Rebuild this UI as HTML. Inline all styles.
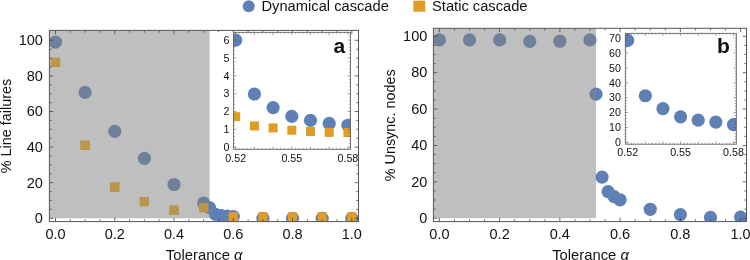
<!DOCTYPE html><html><head><meta charset="utf-8"><style>html,body{margin:0;padding:0;background:#fff;}svg{display:block;will-change:transform;}text{font-family:"Liberation Sans", sans-serif;fill:#111;}</style></head><body>
<svg width="750" height="260" viewBox="0 0 750 260">
<rect width="750" height="260" fill="#fff"/>
<clipPath id="ca"><rect x="49.4" y="30.4" width="309.1" height="191.2"/></clipPath>
<g clip-path="url(#ca)">
<circle cx="55.5" cy="42.08" r="6.6" fill="#5e81b5"/>
<circle cx="85.13" cy="92.45" r="6.6" fill="#5e81b5"/>
<circle cx="114.76" cy="131.44" r="6.6" fill="#5e81b5"/>
<circle cx="144.39" cy="158.31" r="6.6" fill="#5e81b5"/>
<circle cx="174.02" cy="184.48" r="6.6" fill="#5e81b5"/>
<circle cx="203.65" cy="202.99" r="6.6" fill="#5e81b5"/>
<circle cx="209.58" cy="207.62" r="6.6" fill="#5e81b5"/>
<circle cx="215.5" cy="214.38" r="6.6" fill="#5e81b5"/>
<circle cx="221.43" cy="215.63" r="6.6" fill="#5e81b5"/>
<circle cx="227.35" cy="216.16" r="6.6" fill="#5e81b5"/>
<circle cx="233.28" cy="216.52" r="6.6" fill="#5e81b5"/>
<circle cx="262.91" cy="218.3" r="6.6" fill="#5e81b5"/>
<circle cx="292.54" cy="218.3" r="6.6" fill="#5e81b5"/>
<circle cx="322.17" cy="218.3" r="6.6" fill="#5e81b5"/>
<circle cx="351.8" cy="218.3" r="6.6" fill="#5e81b5"/>
<rect x="50.9" y="57.77" width="9.2" height="9.2" fill="#e19c24"/>
<rect x="80.53" y="140.72" width="9.2" height="9.2" fill="#e19c24"/>
<rect x="110.16" y="182.55" width="9.2" height="9.2" fill="#e19c24"/>
<rect x="139.79" y="196.97" width="9.2" height="9.2" fill="#e19c24"/>
<rect x="169.42" y="205.51" width="9.2" height="9.2" fill="#e19c24"/>
<rect x="199.05" y="203.02" width="9.2" height="9.2" fill="#e19c24"/>
<rect x="228.68" y="212.28" width="9.2" height="9.2" fill="#e19c24"/>
<rect x="258.31" y="212.28" width="9.2" height="9.2" fill="#e19c24"/>
<rect x="287.94" y="212.28" width="9.2" height="9.2" fill="#e19c24"/>
<rect x="317.57" y="212.28" width="9.2" height="9.2" fill="#e19c24"/>
<rect x="347.2" y="212.28" width="9.2" height="9.2" fill="#e19c24"/>
<rect x="49.4" y="30.4" width="160.18" height="187.9" fill="rgba(128,128,128,0.5)"/>
<rect x="50.9" y="57.77" width="9.2" height="9.2" fill="#bb9549"/>
<rect x="80.53" y="140.72" width="9.2" height="9.2" fill="#bb9549"/>
<rect x="110.16" y="182.55" width="9.2" height="9.2" fill="#bb9549"/>
<rect x="139.79" y="196.97" width="9.2" height="9.2" fill="#bb9549"/>
<rect x="169.42" y="205.51" width="9.2" height="9.2" fill="#bb9549"/>
<rect x="199.05" y="203.02" width="9.2" height="9.2" fill="#bb9549"/>
</g>
<line x1="55.5" y1="221.6" x2="55.5" y2="217.8" stroke="#444" stroke-width="0.8"/>
<line x1="55.5" y1="30.4" x2="55.5" y2="34.2" stroke="#444" stroke-width="0.8"/>
<line x1="70.31" y1="221.6" x2="70.31" y2="219.4" stroke="#444" stroke-width="0.8"/>
<line x1="70.31" y1="30.4" x2="70.31" y2="32.6" stroke="#444" stroke-width="0.8"/>
<line x1="85.13" y1="221.6" x2="85.13" y2="219.4" stroke="#444" stroke-width="0.8"/>
<line x1="85.13" y1="30.4" x2="85.13" y2="32.6" stroke="#444" stroke-width="0.8"/>
<line x1="99.95" y1="221.6" x2="99.95" y2="219.4" stroke="#444" stroke-width="0.8"/>
<line x1="99.95" y1="30.4" x2="99.95" y2="32.6" stroke="#444" stroke-width="0.8"/>
<line x1="114.76" y1="221.6" x2="114.76" y2="217.8" stroke="#444" stroke-width="0.8"/>
<line x1="114.76" y1="30.4" x2="114.76" y2="34.2" stroke="#444" stroke-width="0.8"/>
<line x1="129.57" y1="221.6" x2="129.57" y2="219.4" stroke="#444" stroke-width="0.8"/>
<line x1="129.57" y1="30.4" x2="129.57" y2="32.6" stroke="#444" stroke-width="0.8"/>
<line x1="144.39" y1="221.6" x2="144.39" y2="219.4" stroke="#444" stroke-width="0.8"/>
<line x1="144.39" y1="30.4" x2="144.39" y2="32.6" stroke="#444" stroke-width="0.8"/>
<line x1="159.21" y1="221.6" x2="159.21" y2="219.4" stroke="#444" stroke-width="0.8"/>
<line x1="159.21" y1="30.4" x2="159.21" y2="32.6" stroke="#444" stroke-width="0.8"/>
<line x1="174.02" y1="221.6" x2="174.02" y2="217.8" stroke="#444" stroke-width="0.8"/>
<line x1="174.02" y1="30.4" x2="174.02" y2="34.2" stroke="#444" stroke-width="0.8"/>
<line x1="188.84" y1="221.6" x2="188.84" y2="219.4" stroke="#444" stroke-width="0.8"/>
<line x1="188.84" y1="30.4" x2="188.84" y2="32.6" stroke="#444" stroke-width="0.8"/>
<line x1="203.65" y1="221.6" x2="203.65" y2="219.4" stroke="#444" stroke-width="0.8"/>
<line x1="203.65" y1="30.4" x2="203.65" y2="32.6" stroke="#444" stroke-width="0.8"/>
<line x1="218.47" y1="221.6" x2="218.47" y2="219.4" stroke="#444" stroke-width="0.8"/>
<line x1="218.47" y1="30.4" x2="218.47" y2="32.6" stroke="#444" stroke-width="0.8"/>
<line x1="233.28" y1="221.6" x2="233.28" y2="217.8" stroke="#444" stroke-width="0.8"/>
<line x1="233.28" y1="30.4" x2="233.28" y2="34.2" stroke="#444" stroke-width="0.8"/>
<line x1="248.1" y1="221.6" x2="248.1" y2="219.4" stroke="#444" stroke-width="0.8"/>
<line x1="248.1" y1="30.4" x2="248.1" y2="32.6" stroke="#444" stroke-width="0.8"/>
<line x1="262.91" y1="221.6" x2="262.91" y2="219.4" stroke="#444" stroke-width="0.8"/>
<line x1="262.91" y1="30.4" x2="262.91" y2="32.6" stroke="#444" stroke-width="0.8"/>
<line x1="277.73" y1="221.6" x2="277.73" y2="219.4" stroke="#444" stroke-width="0.8"/>
<line x1="277.73" y1="30.4" x2="277.73" y2="32.6" stroke="#444" stroke-width="0.8"/>
<line x1="292.54" y1="221.6" x2="292.54" y2="217.8" stroke="#444" stroke-width="0.8"/>
<line x1="292.54" y1="30.4" x2="292.54" y2="34.2" stroke="#444" stroke-width="0.8"/>
<line x1="307.36" y1="221.6" x2="307.36" y2="219.4" stroke="#444" stroke-width="0.8"/>
<line x1="307.36" y1="30.4" x2="307.36" y2="32.6" stroke="#444" stroke-width="0.8"/>
<line x1="322.17" y1="221.6" x2="322.17" y2="219.4" stroke="#444" stroke-width="0.8"/>
<line x1="322.17" y1="30.4" x2="322.17" y2="32.6" stroke="#444" stroke-width="0.8"/>
<line x1="336.99" y1="221.6" x2="336.99" y2="219.4" stroke="#444" stroke-width="0.8"/>
<line x1="336.99" y1="30.4" x2="336.99" y2="32.6" stroke="#444" stroke-width="0.8"/>
<line x1="351.8" y1="221.6" x2="351.8" y2="217.8" stroke="#444" stroke-width="0.8"/>
<line x1="351.8" y1="30.4" x2="351.8" y2="34.2" stroke="#444" stroke-width="0.8"/>
<line x1="49.4" y1="218.3" x2="53.2" y2="218.3" stroke="#444" stroke-width="0.8"/>
<line x1="358.5" y1="218.3" x2="354.7" y2="218.3" stroke="#444" stroke-width="0.8"/>
<line x1="49.4" y1="209.4" x2="51.6" y2="209.4" stroke="#444" stroke-width="0.8"/>
<line x1="358.5" y1="209.4" x2="356.3" y2="209.4" stroke="#444" stroke-width="0.8"/>
<line x1="49.4" y1="200.5" x2="51.6" y2="200.5" stroke="#444" stroke-width="0.8"/>
<line x1="358.5" y1="200.5" x2="356.3" y2="200.5" stroke="#444" stroke-width="0.8"/>
<line x1="49.4" y1="191.6" x2="51.6" y2="191.6" stroke="#444" stroke-width="0.8"/>
<line x1="358.5" y1="191.6" x2="356.3" y2="191.6" stroke="#444" stroke-width="0.8"/>
<line x1="49.4" y1="182.7" x2="53.2" y2="182.7" stroke="#444" stroke-width="0.8"/>
<line x1="358.5" y1="182.7" x2="354.7" y2="182.7" stroke="#444" stroke-width="0.8"/>
<line x1="49.4" y1="173.8" x2="51.6" y2="173.8" stroke="#444" stroke-width="0.8"/>
<line x1="358.5" y1="173.8" x2="356.3" y2="173.8" stroke="#444" stroke-width="0.8"/>
<line x1="49.4" y1="164.9" x2="51.6" y2="164.9" stroke="#444" stroke-width="0.8"/>
<line x1="358.5" y1="164.9" x2="356.3" y2="164.9" stroke="#444" stroke-width="0.8"/>
<line x1="49.4" y1="156" x2="51.6" y2="156" stroke="#444" stroke-width="0.8"/>
<line x1="358.5" y1="156" x2="356.3" y2="156" stroke="#444" stroke-width="0.8"/>
<line x1="49.4" y1="147.1" x2="53.2" y2="147.1" stroke="#444" stroke-width="0.8"/>
<line x1="358.5" y1="147.1" x2="354.7" y2="147.1" stroke="#444" stroke-width="0.8"/>
<line x1="49.4" y1="138.2" x2="51.6" y2="138.2" stroke="#444" stroke-width="0.8"/>
<line x1="358.5" y1="138.2" x2="356.3" y2="138.2" stroke="#444" stroke-width="0.8"/>
<line x1="49.4" y1="129.3" x2="51.6" y2="129.3" stroke="#444" stroke-width="0.8"/>
<line x1="358.5" y1="129.3" x2="356.3" y2="129.3" stroke="#444" stroke-width="0.8"/>
<line x1="49.4" y1="120.4" x2="51.6" y2="120.4" stroke="#444" stroke-width="0.8"/>
<line x1="358.5" y1="120.4" x2="356.3" y2="120.4" stroke="#444" stroke-width="0.8"/>
<line x1="49.4" y1="111.5" x2="53.2" y2="111.5" stroke="#444" stroke-width="0.8"/>
<line x1="358.5" y1="111.5" x2="354.7" y2="111.5" stroke="#444" stroke-width="0.8"/>
<line x1="49.4" y1="102.6" x2="51.6" y2="102.6" stroke="#444" stroke-width="0.8"/>
<line x1="358.5" y1="102.6" x2="356.3" y2="102.6" stroke="#444" stroke-width="0.8"/>
<line x1="49.4" y1="93.7" x2="51.6" y2="93.7" stroke="#444" stroke-width="0.8"/>
<line x1="358.5" y1="93.7" x2="356.3" y2="93.7" stroke="#444" stroke-width="0.8"/>
<line x1="49.4" y1="84.8" x2="51.6" y2="84.8" stroke="#444" stroke-width="0.8"/>
<line x1="358.5" y1="84.8" x2="356.3" y2="84.8" stroke="#444" stroke-width="0.8"/>
<line x1="49.4" y1="75.9" x2="53.2" y2="75.9" stroke="#444" stroke-width="0.8"/>
<line x1="358.5" y1="75.9" x2="354.7" y2="75.9" stroke="#444" stroke-width="0.8"/>
<line x1="49.4" y1="67" x2="51.6" y2="67" stroke="#444" stroke-width="0.8"/>
<line x1="358.5" y1="67" x2="356.3" y2="67" stroke="#444" stroke-width="0.8"/>
<line x1="49.4" y1="58.1" x2="51.6" y2="58.1" stroke="#444" stroke-width="0.8"/>
<line x1="358.5" y1="58.1" x2="356.3" y2="58.1" stroke="#444" stroke-width="0.8"/>
<line x1="49.4" y1="49.2" x2="51.6" y2="49.2" stroke="#444" stroke-width="0.8"/>
<line x1="358.5" y1="49.2" x2="356.3" y2="49.2" stroke="#444" stroke-width="0.8"/>
<line x1="49.4" y1="40.3" x2="53.2" y2="40.3" stroke="#444" stroke-width="0.8"/>
<line x1="358.5" y1="40.3" x2="354.7" y2="40.3" stroke="#444" stroke-width="0.8"/>
<rect x="49.4" y="30.4" width="309.1" height="191.2" fill="none" stroke="#555" stroke-width="1"/>
<text x="55.5" y="238.7" font-size="14.5" text-anchor="middle">0.0</text>
<text x="114.76" y="238.7" font-size="14.5" text-anchor="middle">0.2</text>
<text x="174.02" y="238.7" font-size="14.5" text-anchor="middle">0.4</text>
<text x="233.28" y="238.7" font-size="14.5" text-anchor="middle">0.6</text>
<text x="292.54" y="238.7" font-size="14.5" text-anchor="middle">0.8</text>
<text x="351.8" y="238.7" font-size="14.5" text-anchor="middle">1.0</text>
<text x="42.9" y="223.1" font-size="14.5" text-anchor="end">0</text>
<text x="42.9" y="187.5" font-size="14.5" text-anchor="end">20</text>
<text x="42.9" y="151.9" font-size="14.5" text-anchor="end">40</text>
<text x="42.9" y="116.3" font-size="14.5" text-anchor="end">60</text>
<text x="42.9" y="80.7" font-size="14.5" text-anchor="end">80</text>
<text x="42.9" y="45.1" font-size="14.5" text-anchor="end">100</text>
<text x="204.2" y="259.8" font-size="14.8" text-anchor="middle">Tolerance <tspan font-style="italic">α</tspan></text>
<text transform="translate(11,126) rotate(-90)" font-size="14.4" text-anchor="middle">% Line failures</text>
<rect x="212" y="32.3" width="138.5" height="129.7" fill="#fff"/>
<clipPath id="ia"><rect x="233.6" y="32.3" width="116.9" height="117"/></clipPath>
<g clip-path="url(#ia)">
<circle cx="235.7" cy="40.1" r="6.6" fill="#5e81b5"/>
<circle cx="254.4" cy="94.01" r="6.6" fill="#5e81b5"/>
<circle cx="273.1" cy="107.57" r="6.6" fill="#5e81b5"/>
<circle cx="291.8" cy="116.32" r="6.6" fill="#5e81b5"/>
<circle cx="310.5" cy="120.42" r="6.6" fill="#5e81b5"/>
<circle cx="329.2" cy="123.46" r="6.6" fill="#5e81b5"/>
<circle cx="347.9" cy="125.24" r="6.6" fill="#5e81b5"/>
<rect x="231.2" y="112.18" width="9" height="9" fill="#e19c24"/>
<rect x="249.9" y="121.46" width="9" height="9" fill="#e19c24"/>
<rect x="268.6" y="123.42" width="9" height="9" fill="#e19c24"/>
<rect x="287.3" y="125.74" width="9" height="9" fill="#e19c24"/>
<rect x="306" y="126.99" width="9" height="9" fill="#e19c24"/>
<rect x="324.7" y="127.88" width="9" height="9" fill="#e19c24"/>
<rect x="343.4" y="128.06" width="9" height="9" fill="#e19c24"/>
</g>
<line x1="235.7" y1="149.3" x2="235.7" y2="146.7" stroke="#555" stroke-width="0.6"/>
<line x1="235.7" y1="32.3" x2="235.7" y2="34.9" stroke="#555" stroke-width="0.6"/>
<line x1="239.44" y1="149.3" x2="239.44" y2="148" stroke="#555" stroke-width="0.6"/>
<line x1="239.44" y1="32.3" x2="239.44" y2="33.6" stroke="#555" stroke-width="0.6"/>
<line x1="243.18" y1="149.3" x2="243.18" y2="148" stroke="#555" stroke-width="0.6"/>
<line x1="243.18" y1="32.3" x2="243.18" y2="33.6" stroke="#555" stroke-width="0.6"/>
<line x1="246.92" y1="149.3" x2="246.92" y2="148" stroke="#555" stroke-width="0.6"/>
<line x1="246.92" y1="32.3" x2="246.92" y2="33.6" stroke="#555" stroke-width="0.6"/>
<line x1="250.66" y1="149.3" x2="250.66" y2="148" stroke="#555" stroke-width="0.6"/>
<line x1="250.66" y1="32.3" x2="250.66" y2="33.6" stroke="#555" stroke-width="0.6"/>
<line x1="254.4" y1="149.3" x2="254.4" y2="146.7" stroke="#555" stroke-width="0.6"/>
<line x1="254.4" y1="32.3" x2="254.4" y2="34.9" stroke="#555" stroke-width="0.6"/>
<line x1="258.14" y1="149.3" x2="258.14" y2="148" stroke="#555" stroke-width="0.6"/>
<line x1="258.14" y1="32.3" x2="258.14" y2="33.6" stroke="#555" stroke-width="0.6"/>
<line x1="261.88" y1="149.3" x2="261.88" y2="148" stroke="#555" stroke-width="0.6"/>
<line x1="261.88" y1="32.3" x2="261.88" y2="33.6" stroke="#555" stroke-width="0.6"/>
<line x1="265.62" y1="149.3" x2="265.62" y2="148" stroke="#555" stroke-width="0.6"/>
<line x1="265.62" y1="32.3" x2="265.62" y2="33.6" stroke="#555" stroke-width="0.6"/>
<line x1="269.36" y1="149.3" x2="269.36" y2="148" stroke="#555" stroke-width="0.6"/>
<line x1="269.36" y1="32.3" x2="269.36" y2="33.6" stroke="#555" stroke-width="0.6"/>
<line x1="273.1" y1="149.3" x2="273.1" y2="146.7" stroke="#555" stroke-width="0.6"/>
<line x1="273.1" y1="32.3" x2="273.1" y2="34.9" stroke="#555" stroke-width="0.6"/>
<line x1="276.84" y1="149.3" x2="276.84" y2="148" stroke="#555" stroke-width="0.6"/>
<line x1="276.84" y1="32.3" x2="276.84" y2="33.6" stroke="#555" stroke-width="0.6"/>
<line x1="280.58" y1="149.3" x2="280.58" y2="148" stroke="#555" stroke-width="0.6"/>
<line x1="280.58" y1="32.3" x2="280.58" y2="33.6" stroke="#555" stroke-width="0.6"/>
<line x1="284.32" y1="149.3" x2="284.32" y2="148" stroke="#555" stroke-width="0.6"/>
<line x1="284.32" y1="32.3" x2="284.32" y2="33.6" stroke="#555" stroke-width="0.6"/>
<line x1="288.06" y1="149.3" x2="288.06" y2="148" stroke="#555" stroke-width="0.6"/>
<line x1="288.06" y1="32.3" x2="288.06" y2="33.6" stroke="#555" stroke-width="0.6"/>
<line x1="291.8" y1="149.3" x2="291.8" y2="146.7" stroke="#555" stroke-width="0.6"/>
<line x1="291.8" y1="32.3" x2="291.8" y2="34.9" stroke="#555" stroke-width="0.6"/>
<line x1="295.54" y1="149.3" x2="295.54" y2="148" stroke="#555" stroke-width="0.6"/>
<line x1="295.54" y1="32.3" x2="295.54" y2="33.6" stroke="#555" stroke-width="0.6"/>
<line x1="299.28" y1="149.3" x2="299.28" y2="148" stroke="#555" stroke-width="0.6"/>
<line x1="299.28" y1="32.3" x2="299.28" y2="33.6" stroke="#555" stroke-width="0.6"/>
<line x1="303.02" y1="149.3" x2="303.02" y2="148" stroke="#555" stroke-width="0.6"/>
<line x1="303.02" y1="32.3" x2="303.02" y2="33.6" stroke="#555" stroke-width="0.6"/>
<line x1="306.76" y1="149.3" x2="306.76" y2="148" stroke="#555" stroke-width="0.6"/>
<line x1="306.76" y1="32.3" x2="306.76" y2="33.6" stroke="#555" stroke-width="0.6"/>
<line x1="310.5" y1="149.3" x2="310.5" y2="146.7" stroke="#555" stroke-width="0.6"/>
<line x1="310.5" y1="32.3" x2="310.5" y2="34.9" stroke="#555" stroke-width="0.6"/>
<line x1="314.24" y1="149.3" x2="314.24" y2="148" stroke="#555" stroke-width="0.6"/>
<line x1="314.24" y1="32.3" x2="314.24" y2="33.6" stroke="#555" stroke-width="0.6"/>
<line x1="317.98" y1="149.3" x2="317.98" y2="148" stroke="#555" stroke-width="0.6"/>
<line x1="317.98" y1="32.3" x2="317.98" y2="33.6" stroke="#555" stroke-width="0.6"/>
<line x1="321.72" y1="149.3" x2="321.72" y2="148" stroke="#555" stroke-width="0.6"/>
<line x1="321.72" y1="32.3" x2="321.72" y2="33.6" stroke="#555" stroke-width="0.6"/>
<line x1="325.46" y1="149.3" x2="325.46" y2="148" stroke="#555" stroke-width="0.6"/>
<line x1="325.46" y1="32.3" x2="325.46" y2="33.6" stroke="#555" stroke-width="0.6"/>
<line x1="329.2" y1="149.3" x2="329.2" y2="146.7" stroke="#555" stroke-width="0.6"/>
<line x1="329.2" y1="32.3" x2="329.2" y2="34.9" stroke="#555" stroke-width="0.6"/>
<line x1="332.94" y1="149.3" x2="332.94" y2="148" stroke="#555" stroke-width="0.6"/>
<line x1="332.94" y1="32.3" x2="332.94" y2="33.6" stroke="#555" stroke-width="0.6"/>
<line x1="336.68" y1="149.3" x2="336.68" y2="148" stroke="#555" stroke-width="0.6"/>
<line x1="336.68" y1="32.3" x2="336.68" y2="33.6" stroke="#555" stroke-width="0.6"/>
<line x1="340.42" y1="149.3" x2="340.42" y2="148" stroke="#555" stroke-width="0.6"/>
<line x1="340.42" y1="32.3" x2="340.42" y2="33.6" stroke="#555" stroke-width="0.6"/>
<line x1="344.16" y1="149.3" x2="344.16" y2="148" stroke="#555" stroke-width="0.6"/>
<line x1="344.16" y1="32.3" x2="344.16" y2="33.6" stroke="#555" stroke-width="0.6"/>
<line x1="347.9" y1="149.3" x2="347.9" y2="146.7" stroke="#555" stroke-width="0.6"/>
<line x1="347.9" y1="32.3" x2="347.9" y2="34.9" stroke="#555" stroke-width="0.6"/>
<line x1="233.6" y1="147.2" x2="236.2" y2="147.2" stroke="#555" stroke-width="0.6"/>
<line x1="350.5" y1="147.2" x2="347.9" y2="147.2" stroke="#555" stroke-width="0.6"/>
<line x1="233.6" y1="143.63" x2="234.9" y2="143.63" stroke="#555" stroke-width="0.6"/>
<line x1="350.5" y1="143.63" x2="349.2" y2="143.63" stroke="#555" stroke-width="0.6"/>
<line x1="233.6" y1="140.06" x2="234.9" y2="140.06" stroke="#555" stroke-width="0.6"/>
<line x1="350.5" y1="140.06" x2="349.2" y2="140.06" stroke="#555" stroke-width="0.6"/>
<line x1="233.6" y1="136.49" x2="234.9" y2="136.49" stroke="#555" stroke-width="0.6"/>
<line x1="350.5" y1="136.49" x2="349.2" y2="136.49" stroke="#555" stroke-width="0.6"/>
<line x1="233.6" y1="132.92" x2="234.9" y2="132.92" stroke="#555" stroke-width="0.6"/>
<line x1="350.5" y1="132.92" x2="349.2" y2="132.92" stroke="#555" stroke-width="0.6"/>
<line x1="233.6" y1="129.35" x2="236.2" y2="129.35" stroke="#555" stroke-width="0.6"/>
<line x1="350.5" y1="129.35" x2="347.9" y2="129.35" stroke="#555" stroke-width="0.6"/>
<line x1="233.6" y1="125.78" x2="234.9" y2="125.78" stroke="#555" stroke-width="0.6"/>
<line x1="350.5" y1="125.78" x2="349.2" y2="125.78" stroke="#555" stroke-width="0.6"/>
<line x1="233.6" y1="122.21" x2="234.9" y2="122.21" stroke="#555" stroke-width="0.6"/>
<line x1="350.5" y1="122.21" x2="349.2" y2="122.21" stroke="#555" stroke-width="0.6"/>
<line x1="233.6" y1="118.64" x2="234.9" y2="118.64" stroke="#555" stroke-width="0.6"/>
<line x1="350.5" y1="118.64" x2="349.2" y2="118.64" stroke="#555" stroke-width="0.6"/>
<line x1="233.6" y1="115.07" x2="234.9" y2="115.07" stroke="#555" stroke-width="0.6"/>
<line x1="350.5" y1="115.07" x2="349.2" y2="115.07" stroke="#555" stroke-width="0.6"/>
<line x1="233.6" y1="111.5" x2="236.2" y2="111.5" stroke="#555" stroke-width="0.6"/>
<line x1="350.5" y1="111.5" x2="347.9" y2="111.5" stroke="#555" stroke-width="0.6"/>
<line x1="233.6" y1="107.93" x2="234.9" y2="107.93" stroke="#555" stroke-width="0.6"/>
<line x1="350.5" y1="107.93" x2="349.2" y2="107.93" stroke="#555" stroke-width="0.6"/>
<line x1="233.6" y1="104.36" x2="234.9" y2="104.36" stroke="#555" stroke-width="0.6"/>
<line x1="350.5" y1="104.36" x2="349.2" y2="104.36" stroke="#555" stroke-width="0.6"/>
<line x1="233.6" y1="100.79" x2="234.9" y2="100.79" stroke="#555" stroke-width="0.6"/>
<line x1="350.5" y1="100.79" x2="349.2" y2="100.79" stroke="#555" stroke-width="0.6"/>
<line x1="233.6" y1="97.22" x2="234.9" y2="97.22" stroke="#555" stroke-width="0.6"/>
<line x1="350.5" y1="97.22" x2="349.2" y2="97.22" stroke="#555" stroke-width="0.6"/>
<line x1="233.6" y1="93.65" x2="236.2" y2="93.65" stroke="#555" stroke-width="0.6"/>
<line x1="350.5" y1="93.65" x2="347.9" y2="93.65" stroke="#555" stroke-width="0.6"/>
<line x1="233.6" y1="90.08" x2="234.9" y2="90.08" stroke="#555" stroke-width="0.6"/>
<line x1="350.5" y1="90.08" x2="349.2" y2="90.08" stroke="#555" stroke-width="0.6"/>
<line x1="233.6" y1="86.51" x2="234.9" y2="86.51" stroke="#555" stroke-width="0.6"/>
<line x1="350.5" y1="86.51" x2="349.2" y2="86.51" stroke="#555" stroke-width="0.6"/>
<line x1="233.6" y1="82.94" x2="234.9" y2="82.94" stroke="#555" stroke-width="0.6"/>
<line x1="350.5" y1="82.94" x2="349.2" y2="82.94" stroke="#555" stroke-width="0.6"/>
<line x1="233.6" y1="79.37" x2="234.9" y2="79.37" stroke="#555" stroke-width="0.6"/>
<line x1="350.5" y1="79.37" x2="349.2" y2="79.37" stroke="#555" stroke-width="0.6"/>
<line x1="233.6" y1="75.8" x2="236.2" y2="75.8" stroke="#555" stroke-width="0.6"/>
<line x1="350.5" y1="75.8" x2="347.9" y2="75.8" stroke="#555" stroke-width="0.6"/>
<line x1="233.6" y1="72.23" x2="234.9" y2="72.23" stroke="#555" stroke-width="0.6"/>
<line x1="350.5" y1="72.23" x2="349.2" y2="72.23" stroke="#555" stroke-width="0.6"/>
<line x1="233.6" y1="68.66" x2="234.9" y2="68.66" stroke="#555" stroke-width="0.6"/>
<line x1="350.5" y1="68.66" x2="349.2" y2="68.66" stroke="#555" stroke-width="0.6"/>
<line x1="233.6" y1="65.09" x2="234.9" y2="65.09" stroke="#555" stroke-width="0.6"/>
<line x1="350.5" y1="65.09" x2="349.2" y2="65.09" stroke="#555" stroke-width="0.6"/>
<line x1="233.6" y1="61.52" x2="234.9" y2="61.52" stroke="#555" stroke-width="0.6"/>
<line x1="350.5" y1="61.52" x2="349.2" y2="61.52" stroke="#555" stroke-width="0.6"/>
<line x1="233.6" y1="57.95" x2="236.2" y2="57.95" stroke="#555" stroke-width="0.6"/>
<line x1="350.5" y1="57.95" x2="347.9" y2="57.95" stroke="#555" stroke-width="0.6"/>
<line x1="233.6" y1="54.38" x2="234.9" y2="54.38" stroke="#555" stroke-width="0.6"/>
<line x1="350.5" y1="54.38" x2="349.2" y2="54.38" stroke="#555" stroke-width="0.6"/>
<line x1="233.6" y1="50.81" x2="234.9" y2="50.81" stroke="#555" stroke-width="0.6"/>
<line x1="350.5" y1="50.81" x2="349.2" y2="50.81" stroke="#555" stroke-width="0.6"/>
<line x1="233.6" y1="47.24" x2="234.9" y2="47.24" stroke="#555" stroke-width="0.6"/>
<line x1="350.5" y1="47.24" x2="349.2" y2="47.24" stroke="#555" stroke-width="0.6"/>
<line x1="233.6" y1="43.67" x2="234.9" y2="43.67" stroke="#555" stroke-width="0.6"/>
<line x1="350.5" y1="43.67" x2="349.2" y2="43.67" stroke="#555" stroke-width="0.6"/>
<line x1="233.6" y1="40.1" x2="236.2" y2="40.1" stroke="#555" stroke-width="0.6"/>
<line x1="350.5" y1="40.1" x2="347.9" y2="40.1" stroke="#555" stroke-width="0.6"/>
<line x1="233.6" y1="36.53" x2="234.9" y2="36.53" stroke="#555" stroke-width="0.6"/>
<line x1="350.5" y1="36.53" x2="349.2" y2="36.53" stroke="#555" stroke-width="0.6"/>
<line x1="233.6" y1="32.96" x2="234.9" y2="32.96" stroke="#555" stroke-width="0.6"/>
<line x1="350.5" y1="32.96" x2="349.2" y2="32.96" stroke="#555" stroke-width="0.6"/>
<rect x="233.6" y="32.3" width="116.9" height="117" fill="none" stroke="#555" stroke-width="0.8"/>
<text x="235.7" y="161.6" font-size="10.7" text-anchor="middle">0.52</text>
<text x="291.8" y="161.6" font-size="10.7" text-anchor="middle">0.55</text>
<text x="347.9" y="161.6" font-size="10.7" text-anchor="middle">0.58</text>
<text x="229.5" y="150.9" font-size="10.7" text-anchor="end">0</text>
<text x="229.5" y="133.05" font-size="10.7" text-anchor="end">1</text>
<text x="229.5" y="115.2" font-size="10.7" text-anchor="end">2</text>
<text x="229.5" y="97.35" font-size="10.7" text-anchor="end">3</text>
<text x="229.5" y="79.5" font-size="10.7" text-anchor="end">4</text>
<text x="229.5" y="61.65" font-size="10.7" text-anchor="end">5</text>
<text x="229.5" y="43.8" font-size="10.7" text-anchor="end">6</text>
<text x="333.5" y="53.3" font-size="21" font-weight="bold">a</text>
<clipPath id="cb"><rect x="433.4" y="28.3" width="313.1" height="193.3"/></clipPath>
<g clip-path="url(#cb)">
<circle cx="439.4" cy="39.94" r="6.6" fill="#5e81b5"/>
<circle cx="469.52" cy="39.94" r="6.6" fill="#5e81b5"/>
<circle cx="499.64" cy="39.94" r="6.6" fill="#5e81b5"/>
<circle cx="529.76" cy="41.39" r="6.6" fill="#5e81b5"/>
<circle cx="559.88" cy="41.21" r="6.6" fill="#5e81b5"/>
<circle cx="590" cy="39.94" r="6.6" fill="#5e81b5"/>
<circle cx="596.02" cy="94.14" r="6.6" fill="#5e81b5"/>
<circle cx="602.05" cy="177.09" r="6.6" fill="#5e81b5"/>
<circle cx="608.07" cy="191.64" r="6.6" fill="#5e81b5"/>
<circle cx="614.1" cy="196.55" r="6.6" fill="#5e81b5"/>
<circle cx="620.12" cy="199.83" r="6.6" fill="#5e81b5"/>
<circle cx="650.24" cy="209.29" r="6.6" fill="#5e81b5"/>
<circle cx="680.36" cy="214.56" r="6.6" fill="#5e81b5"/>
<circle cx="710.48" cy="217.47" r="6.6" fill="#5e81b5"/>
<circle cx="740.6" cy="217.11" r="6.6" fill="#5e81b5"/>
<rect x="433.4" y="28.3" width="162.62" height="189.9" fill="rgba(128,128,128,0.5)"/>
</g>
<line x1="439.4" y1="221.6" x2="439.4" y2="217.8" stroke="#444" stroke-width="0.8"/>
<line x1="439.4" y1="28.3" x2="439.4" y2="32.1" stroke="#444" stroke-width="0.8"/>
<line x1="454.46" y1="221.6" x2="454.46" y2="219.4" stroke="#444" stroke-width="0.8"/>
<line x1="454.46" y1="28.3" x2="454.46" y2="30.5" stroke="#444" stroke-width="0.8"/>
<line x1="469.52" y1="221.6" x2="469.52" y2="219.4" stroke="#444" stroke-width="0.8"/>
<line x1="469.52" y1="28.3" x2="469.52" y2="30.5" stroke="#444" stroke-width="0.8"/>
<line x1="484.58" y1="221.6" x2="484.58" y2="219.4" stroke="#444" stroke-width="0.8"/>
<line x1="484.58" y1="28.3" x2="484.58" y2="30.5" stroke="#444" stroke-width="0.8"/>
<line x1="499.64" y1="221.6" x2="499.64" y2="217.8" stroke="#444" stroke-width="0.8"/>
<line x1="499.64" y1="28.3" x2="499.64" y2="32.1" stroke="#444" stroke-width="0.8"/>
<line x1="514.7" y1="221.6" x2="514.7" y2="219.4" stroke="#444" stroke-width="0.8"/>
<line x1="514.7" y1="28.3" x2="514.7" y2="30.5" stroke="#444" stroke-width="0.8"/>
<line x1="529.76" y1="221.6" x2="529.76" y2="219.4" stroke="#444" stroke-width="0.8"/>
<line x1="529.76" y1="28.3" x2="529.76" y2="30.5" stroke="#444" stroke-width="0.8"/>
<line x1="544.82" y1="221.6" x2="544.82" y2="219.4" stroke="#444" stroke-width="0.8"/>
<line x1="544.82" y1="28.3" x2="544.82" y2="30.5" stroke="#444" stroke-width="0.8"/>
<line x1="559.88" y1="221.6" x2="559.88" y2="217.8" stroke="#444" stroke-width="0.8"/>
<line x1="559.88" y1="28.3" x2="559.88" y2="32.1" stroke="#444" stroke-width="0.8"/>
<line x1="574.94" y1="221.6" x2="574.94" y2="219.4" stroke="#444" stroke-width="0.8"/>
<line x1="574.94" y1="28.3" x2="574.94" y2="30.5" stroke="#444" stroke-width="0.8"/>
<line x1="590" y1="221.6" x2="590" y2="219.4" stroke="#444" stroke-width="0.8"/>
<line x1="590" y1="28.3" x2="590" y2="30.5" stroke="#444" stroke-width="0.8"/>
<line x1="605.06" y1="221.6" x2="605.06" y2="219.4" stroke="#444" stroke-width="0.8"/>
<line x1="605.06" y1="28.3" x2="605.06" y2="30.5" stroke="#444" stroke-width="0.8"/>
<line x1="620.12" y1="221.6" x2="620.12" y2="217.8" stroke="#444" stroke-width="0.8"/>
<line x1="620.12" y1="28.3" x2="620.12" y2="32.1" stroke="#444" stroke-width="0.8"/>
<line x1="635.18" y1="221.6" x2="635.18" y2="219.4" stroke="#444" stroke-width="0.8"/>
<line x1="635.18" y1="28.3" x2="635.18" y2="30.5" stroke="#444" stroke-width="0.8"/>
<line x1="650.24" y1="221.6" x2="650.24" y2="219.4" stroke="#444" stroke-width="0.8"/>
<line x1="650.24" y1="28.3" x2="650.24" y2="30.5" stroke="#444" stroke-width="0.8"/>
<line x1="665.3" y1="221.6" x2="665.3" y2="219.4" stroke="#444" stroke-width="0.8"/>
<line x1="665.3" y1="28.3" x2="665.3" y2="30.5" stroke="#444" stroke-width="0.8"/>
<line x1="680.36" y1="221.6" x2="680.36" y2="217.8" stroke="#444" stroke-width="0.8"/>
<line x1="680.36" y1="28.3" x2="680.36" y2="32.1" stroke="#444" stroke-width="0.8"/>
<line x1="695.42" y1="221.6" x2="695.42" y2="219.4" stroke="#444" stroke-width="0.8"/>
<line x1="695.42" y1="28.3" x2="695.42" y2="30.5" stroke="#444" stroke-width="0.8"/>
<line x1="710.48" y1="221.6" x2="710.48" y2="219.4" stroke="#444" stroke-width="0.8"/>
<line x1="710.48" y1="28.3" x2="710.48" y2="30.5" stroke="#444" stroke-width="0.8"/>
<line x1="725.54" y1="221.6" x2="725.54" y2="219.4" stroke="#444" stroke-width="0.8"/>
<line x1="725.54" y1="28.3" x2="725.54" y2="30.5" stroke="#444" stroke-width="0.8"/>
<line x1="740.6" y1="221.6" x2="740.6" y2="217.8" stroke="#444" stroke-width="0.8"/>
<line x1="740.6" y1="28.3" x2="740.6" y2="32.1" stroke="#444" stroke-width="0.8"/>
<line x1="433.4" y1="218.2" x2="437.2" y2="218.2" stroke="#444" stroke-width="0.8"/>
<line x1="746.5" y1="218.2" x2="742.7" y2="218.2" stroke="#444" stroke-width="0.8"/>
<line x1="433.4" y1="209.1" x2="435.6" y2="209.1" stroke="#444" stroke-width="0.8"/>
<line x1="746.5" y1="209.1" x2="744.3" y2="209.1" stroke="#444" stroke-width="0.8"/>
<line x1="433.4" y1="200.01" x2="435.6" y2="200.01" stroke="#444" stroke-width="0.8"/>
<line x1="746.5" y1="200.01" x2="744.3" y2="200.01" stroke="#444" stroke-width="0.8"/>
<line x1="433.4" y1="190.91" x2="435.6" y2="190.91" stroke="#444" stroke-width="0.8"/>
<line x1="746.5" y1="190.91" x2="744.3" y2="190.91" stroke="#444" stroke-width="0.8"/>
<line x1="433.4" y1="181.82" x2="437.2" y2="181.82" stroke="#444" stroke-width="0.8"/>
<line x1="746.5" y1="181.82" x2="742.7" y2="181.82" stroke="#444" stroke-width="0.8"/>
<line x1="433.4" y1="172.72" x2="435.6" y2="172.72" stroke="#444" stroke-width="0.8"/>
<line x1="746.5" y1="172.72" x2="744.3" y2="172.72" stroke="#444" stroke-width="0.8"/>
<line x1="433.4" y1="163.63" x2="435.6" y2="163.63" stroke="#444" stroke-width="0.8"/>
<line x1="746.5" y1="163.63" x2="744.3" y2="163.63" stroke="#444" stroke-width="0.8"/>
<line x1="433.4" y1="154.53" x2="435.6" y2="154.53" stroke="#444" stroke-width="0.8"/>
<line x1="746.5" y1="154.53" x2="744.3" y2="154.53" stroke="#444" stroke-width="0.8"/>
<line x1="433.4" y1="145.44" x2="437.2" y2="145.44" stroke="#444" stroke-width="0.8"/>
<line x1="746.5" y1="145.44" x2="742.7" y2="145.44" stroke="#444" stroke-width="0.8"/>
<line x1="433.4" y1="136.34" x2="435.6" y2="136.34" stroke="#444" stroke-width="0.8"/>
<line x1="746.5" y1="136.34" x2="744.3" y2="136.34" stroke="#444" stroke-width="0.8"/>
<line x1="433.4" y1="127.25" x2="435.6" y2="127.25" stroke="#444" stroke-width="0.8"/>
<line x1="746.5" y1="127.25" x2="744.3" y2="127.25" stroke="#444" stroke-width="0.8"/>
<line x1="433.4" y1="118.15" x2="435.6" y2="118.15" stroke="#444" stroke-width="0.8"/>
<line x1="746.5" y1="118.15" x2="744.3" y2="118.15" stroke="#444" stroke-width="0.8"/>
<line x1="433.4" y1="109.06" x2="437.2" y2="109.06" stroke="#444" stroke-width="0.8"/>
<line x1="746.5" y1="109.06" x2="742.7" y2="109.06" stroke="#444" stroke-width="0.8"/>
<line x1="433.4" y1="99.96" x2="435.6" y2="99.96" stroke="#444" stroke-width="0.8"/>
<line x1="746.5" y1="99.96" x2="744.3" y2="99.96" stroke="#444" stroke-width="0.8"/>
<line x1="433.4" y1="90.87" x2="435.6" y2="90.87" stroke="#444" stroke-width="0.8"/>
<line x1="746.5" y1="90.87" x2="744.3" y2="90.87" stroke="#444" stroke-width="0.8"/>
<line x1="433.4" y1="81.78" x2="435.6" y2="81.78" stroke="#444" stroke-width="0.8"/>
<line x1="746.5" y1="81.78" x2="744.3" y2="81.78" stroke="#444" stroke-width="0.8"/>
<line x1="433.4" y1="72.68" x2="437.2" y2="72.68" stroke="#444" stroke-width="0.8"/>
<line x1="746.5" y1="72.68" x2="742.7" y2="72.68" stroke="#444" stroke-width="0.8"/>
<line x1="433.4" y1="63.58" x2="435.6" y2="63.58" stroke="#444" stroke-width="0.8"/>
<line x1="746.5" y1="63.58" x2="744.3" y2="63.58" stroke="#444" stroke-width="0.8"/>
<line x1="433.4" y1="54.49" x2="435.6" y2="54.49" stroke="#444" stroke-width="0.8"/>
<line x1="746.5" y1="54.49" x2="744.3" y2="54.49" stroke="#444" stroke-width="0.8"/>
<line x1="433.4" y1="45.39" x2="435.6" y2="45.39" stroke="#444" stroke-width="0.8"/>
<line x1="746.5" y1="45.39" x2="744.3" y2="45.39" stroke="#444" stroke-width="0.8"/>
<line x1="433.4" y1="36.3" x2="437.2" y2="36.3" stroke="#444" stroke-width="0.8"/>
<line x1="746.5" y1="36.3" x2="742.7" y2="36.3" stroke="#444" stroke-width="0.8"/>
<rect x="433.4" y="28.3" width="313.1" height="193.3" fill="none" stroke="#555" stroke-width="1"/>
<text x="439.4" y="238.7" font-size="14.5" text-anchor="middle">0.0</text>
<text x="499.64" y="238.7" font-size="14.5" text-anchor="middle">0.2</text>
<text x="559.88" y="238.7" font-size="14.5" text-anchor="middle">0.4</text>
<text x="620.12" y="238.7" font-size="14.5" text-anchor="middle">0.6</text>
<text x="680.36" y="238.7" font-size="14.5" text-anchor="middle">0.8</text>
<text x="740.6" y="238.7" font-size="14.5" text-anchor="middle">1.0</text>
<text x="427.3" y="223" font-size="14.5" text-anchor="end">0</text>
<text x="427.3" y="186.62" font-size="14.5" text-anchor="end">20</text>
<text x="427.3" y="150.24" font-size="14.5" text-anchor="end">40</text>
<text x="427.3" y="113.86" font-size="14.5" text-anchor="end">60</text>
<text x="427.3" y="77.48" font-size="14.5" text-anchor="end">80</text>
<text x="427.3" y="41.1" font-size="14.5" text-anchor="end">100</text>
<text x="590.5" y="259.8" font-size="14.8" text-anchor="middle">Tolerance <tspan font-style="italic">α</tspan></text>
<text transform="translate(395.4,125.3) rotate(-90)" font-size="14.4" text-anchor="middle">% Unsync. nodes</text>
<rect x="603" y="33.3" width="133.3" height="123.7" fill="#fff"/>
<clipPath id="ib"><rect x="625.3" y="33.3" width="111" height="110.9"/></clipPath>
<g clip-path="url(#ib)">
<circle cx="627.7" cy="40.44" r="6.6" fill="#5e81b5"/>
<circle cx="645.33" cy="95.76" r="6.6" fill="#5e81b5"/>
<circle cx="662.96" cy="108.69" r="6.6" fill="#5e81b5"/>
<circle cx="680.59" cy="116.87" r="6.6" fill="#5e81b5"/>
<circle cx="698.22" cy="120.14" r="6.6" fill="#5e81b5"/>
<circle cx="715.85" cy="122.08" r="6.6" fill="#5e81b5"/>
<circle cx="733.48" cy="124.6" r="6.6" fill="#5e81b5"/>
</g>
<line x1="627.7" y1="144.2" x2="627.7" y2="141.6" stroke="#555" stroke-width="0.6"/>
<line x1="627.7" y1="33.3" x2="627.7" y2="35.9" stroke="#555" stroke-width="0.6"/>
<line x1="631.23" y1="144.2" x2="631.23" y2="142.9" stroke="#555" stroke-width="0.6"/>
<line x1="631.23" y1="33.3" x2="631.23" y2="34.6" stroke="#555" stroke-width="0.6"/>
<line x1="634.75" y1="144.2" x2="634.75" y2="142.9" stroke="#555" stroke-width="0.6"/>
<line x1="634.75" y1="33.3" x2="634.75" y2="34.6" stroke="#555" stroke-width="0.6"/>
<line x1="638.28" y1="144.2" x2="638.28" y2="142.9" stroke="#555" stroke-width="0.6"/>
<line x1="638.28" y1="33.3" x2="638.28" y2="34.6" stroke="#555" stroke-width="0.6"/>
<line x1="641.8" y1="144.2" x2="641.8" y2="142.9" stroke="#555" stroke-width="0.6"/>
<line x1="641.8" y1="33.3" x2="641.8" y2="34.6" stroke="#555" stroke-width="0.6"/>
<line x1="645.33" y1="144.2" x2="645.33" y2="141.6" stroke="#555" stroke-width="0.6"/>
<line x1="645.33" y1="33.3" x2="645.33" y2="35.9" stroke="#555" stroke-width="0.6"/>
<line x1="648.86" y1="144.2" x2="648.86" y2="142.9" stroke="#555" stroke-width="0.6"/>
<line x1="648.86" y1="33.3" x2="648.86" y2="34.6" stroke="#555" stroke-width="0.6"/>
<line x1="652.38" y1="144.2" x2="652.38" y2="142.9" stroke="#555" stroke-width="0.6"/>
<line x1="652.38" y1="33.3" x2="652.38" y2="34.6" stroke="#555" stroke-width="0.6"/>
<line x1="655.91" y1="144.2" x2="655.91" y2="142.9" stroke="#555" stroke-width="0.6"/>
<line x1="655.91" y1="33.3" x2="655.91" y2="34.6" stroke="#555" stroke-width="0.6"/>
<line x1="659.43" y1="144.2" x2="659.43" y2="142.9" stroke="#555" stroke-width="0.6"/>
<line x1="659.43" y1="33.3" x2="659.43" y2="34.6" stroke="#555" stroke-width="0.6"/>
<line x1="662.96" y1="144.2" x2="662.96" y2="141.6" stroke="#555" stroke-width="0.6"/>
<line x1="662.96" y1="33.3" x2="662.96" y2="35.9" stroke="#555" stroke-width="0.6"/>
<line x1="666.49" y1="144.2" x2="666.49" y2="142.9" stroke="#555" stroke-width="0.6"/>
<line x1="666.49" y1="33.3" x2="666.49" y2="34.6" stroke="#555" stroke-width="0.6"/>
<line x1="670.01" y1="144.2" x2="670.01" y2="142.9" stroke="#555" stroke-width="0.6"/>
<line x1="670.01" y1="33.3" x2="670.01" y2="34.6" stroke="#555" stroke-width="0.6"/>
<line x1="673.54" y1="144.2" x2="673.54" y2="142.9" stroke="#555" stroke-width="0.6"/>
<line x1="673.54" y1="33.3" x2="673.54" y2="34.6" stroke="#555" stroke-width="0.6"/>
<line x1="677.06" y1="144.2" x2="677.06" y2="142.9" stroke="#555" stroke-width="0.6"/>
<line x1="677.06" y1="33.3" x2="677.06" y2="34.6" stroke="#555" stroke-width="0.6"/>
<line x1="680.59" y1="144.2" x2="680.59" y2="141.6" stroke="#555" stroke-width="0.6"/>
<line x1="680.59" y1="33.3" x2="680.59" y2="35.9" stroke="#555" stroke-width="0.6"/>
<line x1="684.12" y1="144.2" x2="684.12" y2="142.9" stroke="#555" stroke-width="0.6"/>
<line x1="684.12" y1="33.3" x2="684.12" y2="34.6" stroke="#555" stroke-width="0.6"/>
<line x1="687.64" y1="144.2" x2="687.64" y2="142.9" stroke="#555" stroke-width="0.6"/>
<line x1="687.64" y1="33.3" x2="687.64" y2="34.6" stroke="#555" stroke-width="0.6"/>
<line x1="691.17" y1="144.2" x2="691.17" y2="142.9" stroke="#555" stroke-width="0.6"/>
<line x1="691.17" y1="33.3" x2="691.17" y2="34.6" stroke="#555" stroke-width="0.6"/>
<line x1="694.69" y1="144.2" x2="694.69" y2="142.9" stroke="#555" stroke-width="0.6"/>
<line x1="694.69" y1="33.3" x2="694.69" y2="34.6" stroke="#555" stroke-width="0.6"/>
<line x1="698.22" y1="144.2" x2="698.22" y2="141.6" stroke="#555" stroke-width="0.6"/>
<line x1="698.22" y1="33.3" x2="698.22" y2="35.9" stroke="#555" stroke-width="0.6"/>
<line x1="701.75" y1="144.2" x2="701.75" y2="142.9" stroke="#555" stroke-width="0.6"/>
<line x1="701.75" y1="33.3" x2="701.75" y2="34.6" stroke="#555" stroke-width="0.6"/>
<line x1="705.27" y1="144.2" x2="705.27" y2="142.9" stroke="#555" stroke-width="0.6"/>
<line x1="705.27" y1="33.3" x2="705.27" y2="34.6" stroke="#555" stroke-width="0.6"/>
<line x1="708.8" y1="144.2" x2="708.8" y2="142.9" stroke="#555" stroke-width="0.6"/>
<line x1="708.8" y1="33.3" x2="708.8" y2="34.6" stroke="#555" stroke-width="0.6"/>
<line x1="712.32" y1="144.2" x2="712.32" y2="142.9" stroke="#555" stroke-width="0.6"/>
<line x1="712.32" y1="33.3" x2="712.32" y2="34.6" stroke="#555" stroke-width="0.6"/>
<line x1="715.85" y1="144.2" x2="715.85" y2="141.6" stroke="#555" stroke-width="0.6"/>
<line x1="715.85" y1="33.3" x2="715.85" y2="35.9" stroke="#555" stroke-width="0.6"/>
<line x1="719.38" y1="144.2" x2="719.38" y2="142.9" stroke="#555" stroke-width="0.6"/>
<line x1="719.38" y1="33.3" x2="719.38" y2="34.6" stroke="#555" stroke-width="0.6"/>
<line x1="722.9" y1="144.2" x2="722.9" y2="142.9" stroke="#555" stroke-width="0.6"/>
<line x1="722.9" y1="33.3" x2="722.9" y2="34.6" stroke="#555" stroke-width="0.6"/>
<line x1="726.43" y1="144.2" x2="726.43" y2="142.9" stroke="#555" stroke-width="0.6"/>
<line x1="726.43" y1="33.3" x2="726.43" y2="34.6" stroke="#555" stroke-width="0.6"/>
<line x1="729.95" y1="144.2" x2="729.95" y2="142.9" stroke="#555" stroke-width="0.6"/>
<line x1="729.95" y1="33.3" x2="729.95" y2="34.6" stroke="#555" stroke-width="0.6"/>
<line x1="733.48" y1="144.2" x2="733.48" y2="141.6" stroke="#555" stroke-width="0.6"/>
<line x1="733.48" y1="33.3" x2="733.48" y2="35.9" stroke="#555" stroke-width="0.6"/>
<line x1="625.3" y1="142.3" x2="627.9" y2="142.3" stroke="#555" stroke-width="0.6"/>
<line x1="736.3" y1="142.3" x2="733.7" y2="142.3" stroke="#555" stroke-width="0.6"/>
<line x1="625.3" y1="139.33" x2="626.6" y2="139.33" stroke="#555" stroke-width="0.6"/>
<line x1="736.3" y1="139.33" x2="735" y2="139.33" stroke="#555" stroke-width="0.6"/>
<line x1="625.3" y1="136.35" x2="626.6" y2="136.35" stroke="#555" stroke-width="0.6"/>
<line x1="736.3" y1="136.35" x2="735" y2="136.35" stroke="#555" stroke-width="0.6"/>
<line x1="625.3" y1="133.38" x2="626.6" y2="133.38" stroke="#555" stroke-width="0.6"/>
<line x1="736.3" y1="133.38" x2="735" y2="133.38" stroke="#555" stroke-width="0.6"/>
<line x1="625.3" y1="130.4" x2="626.6" y2="130.4" stroke="#555" stroke-width="0.6"/>
<line x1="736.3" y1="130.4" x2="735" y2="130.4" stroke="#555" stroke-width="0.6"/>
<line x1="625.3" y1="127.43" x2="627.9" y2="127.43" stroke="#555" stroke-width="0.6"/>
<line x1="736.3" y1="127.43" x2="733.7" y2="127.43" stroke="#555" stroke-width="0.6"/>
<line x1="625.3" y1="124.46" x2="626.6" y2="124.46" stroke="#555" stroke-width="0.6"/>
<line x1="736.3" y1="124.46" x2="735" y2="124.46" stroke="#555" stroke-width="0.6"/>
<line x1="625.3" y1="121.48" x2="626.6" y2="121.48" stroke="#555" stroke-width="0.6"/>
<line x1="736.3" y1="121.48" x2="735" y2="121.48" stroke="#555" stroke-width="0.6"/>
<line x1="625.3" y1="118.51" x2="626.6" y2="118.51" stroke="#555" stroke-width="0.6"/>
<line x1="736.3" y1="118.51" x2="735" y2="118.51" stroke="#555" stroke-width="0.6"/>
<line x1="625.3" y1="115.53" x2="626.6" y2="115.53" stroke="#555" stroke-width="0.6"/>
<line x1="736.3" y1="115.53" x2="735" y2="115.53" stroke="#555" stroke-width="0.6"/>
<line x1="625.3" y1="112.56" x2="627.9" y2="112.56" stroke="#555" stroke-width="0.6"/>
<line x1="736.3" y1="112.56" x2="733.7" y2="112.56" stroke="#555" stroke-width="0.6"/>
<line x1="625.3" y1="109.59" x2="626.6" y2="109.59" stroke="#555" stroke-width="0.6"/>
<line x1="736.3" y1="109.59" x2="735" y2="109.59" stroke="#555" stroke-width="0.6"/>
<line x1="625.3" y1="106.61" x2="626.6" y2="106.61" stroke="#555" stroke-width="0.6"/>
<line x1="736.3" y1="106.61" x2="735" y2="106.61" stroke="#555" stroke-width="0.6"/>
<line x1="625.3" y1="103.64" x2="626.6" y2="103.64" stroke="#555" stroke-width="0.6"/>
<line x1="736.3" y1="103.64" x2="735" y2="103.64" stroke="#555" stroke-width="0.6"/>
<line x1="625.3" y1="100.66" x2="626.6" y2="100.66" stroke="#555" stroke-width="0.6"/>
<line x1="736.3" y1="100.66" x2="735" y2="100.66" stroke="#555" stroke-width="0.6"/>
<line x1="625.3" y1="97.69" x2="627.9" y2="97.69" stroke="#555" stroke-width="0.6"/>
<line x1="736.3" y1="97.69" x2="733.7" y2="97.69" stroke="#555" stroke-width="0.6"/>
<line x1="625.3" y1="94.72" x2="626.6" y2="94.72" stroke="#555" stroke-width="0.6"/>
<line x1="736.3" y1="94.72" x2="735" y2="94.72" stroke="#555" stroke-width="0.6"/>
<line x1="625.3" y1="91.74" x2="626.6" y2="91.74" stroke="#555" stroke-width="0.6"/>
<line x1="736.3" y1="91.74" x2="735" y2="91.74" stroke="#555" stroke-width="0.6"/>
<line x1="625.3" y1="88.77" x2="626.6" y2="88.77" stroke="#555" stroke-width="0.6"/>
<line x1="736.3" y1="88.77" x2="735" y2="88.77" stroke="#555" stroke-width="0.6"/>
<line x1="625.3" y1="85.79" x2="626.6" y2="85.79" stroke="#555" stroke-width="0.6"/>
<line x1="736.3" y1="85.79" x2="735" y2="85.79" stroke="#555" stroke-width="0.6"/>
<line x1="625.3" y1="82.82" x2="627.9" y2="82.82" stroke="#555" stroke-width="0.6"/>
<line x1="736.3" y1="82.82" x2="733.7" y2="82.82" stroke="#555" stroke-width="0.6"/>
<line x1="625.3" y1="79.85" x2="626.6" y2="79.85" stroke="#555" stroke-width="0.6"/>
<line x1="736.3" y1="79.85" x2="735" y2="79.85" stroke="#555" stroke-width="0.6"/>
<line x1="625.3" y1="76.87" x2="626.6" y2="76.87" stroke="#555" stroke-width="0.6"/>
<line x1="736.3" y1="76.87" x2="735" y2="76.87" stroke="#555" stroke-width="0.6"/>
<line x1="625.3" y1="73.9" x2="626.6" y2="73.9" stroke="#555" stroke-width="0.6"/>
<line x1="736.3" y1="73.9" x2="735" y2="73.9" stroke="#555" stroke-width="0.6"/>
<line x1="625.3" y1="70.92" x2="626.6" y2="70.92" stroke="#555" stroke-width="0.6"/>
<line x1="736.3" y1="70.92" x2="735" y2="70.92" stroke="#555" stroke-width="0.6"/>
<line x1="625.3" y1="67.95" x2="627.9" y2="67.95" stroke="#555" stroke-width="0.6"/>
<line x1="736.3" y1="67.95" x2="733.7" y2="67.95" stroke="#555" stroke-width="0.6"/>
<line x1="625.3" y1="64.98" x2="626.6" y2="64.98" stroke="#555" stroke-width="0.6"/>
<line x1="736.3" y1="64.98" x2="735" y2="64.98" stroke="#555" stroke-width="0.6"/>
<line x1="625.3" y1="62" x2="626.6" y2="62" stroke="#555" stroke-width="0.6"/>
<line x1="736.3" y1="62" x2="735" y2="62" stroke="#555" stroke-width="0.6"/>
<line x1="625.3" y1="59.03" x2="626.6" y2="59.03" stroke="#555" stroke-width="0.6"/>
<line x1="736.3" y1="59.03" x2="735" y2="59.03" stroke="#555" stroke-width="0.6"/>
<line x1="625.3" y1="56.05" x2="626.6" y2="56.05" stroke="#555" stroke-width="0.6"/>
<line x1="736.3" y1="56.05" x2="735" y2="56.05" stroke="#555" stroke-width="0.6"/>
<line x1="625.3" y1="53.08" x2="627.9" y2="53.08" stroke="#555" stroke-width="0.6"/>
<line x1="736.3" y1="53.08" x2="733.7" y2="53.08" stroke="#555" stroke-width="0.6"/>
<line x1="625.3" y1="50.11" x2="626.6" y2="50.11" stroke="#555" stroke-width="0.6"/>
<line x1="736.3" y1="50.11" x2="735" y2="50.11" stroke="#555" stroke-width="0.6"/>
<line x1="625.3" y1="47.13" x2="626.6" y2="47.13" stroke="#555" stroke-width="0.6"/>
<line x1="736.3" y1="47.13" x2="735" y2="47.13" stroke="#555" stroke-width="0.6"/>
<line x1="625.3" y1="44.16" x2="626.6" y2="44.16" stroke="#555" stroke-width="0.6"/>
<line x1="736.3" y1="44.16" x2="735" y2="44.16" stroke="#555" stroke-width="0.6"/>
<line x1="625.3" y1="41.18" x2="626.6" y2="41.18" stroke="#555" stroke-width="0.6"/>
<line x1="736.3" y1="41.18" x2="735" y2="41.18" stroke="#555" stroke-width="0.6"/>
<line x1="625.3" y1="38.21" x2="627.9" y2="38.21" stroke="#555" stroke-width="0.6"/>
<line x1="736.3" y1="38.21" x2="733.7" y2="38.21" stroke="#555" stroke-width="0.6"/>
<line x1="625.3" y1="35.24" x2="626.6" y2="35.24" stroke="#555" stroke-width="0.6"/>
<line x1="736.3" y1="35.24" x2="735" y2="35.24" stroke="#555" stroke-width="0.6"/>
<rect x="625.3" y="33.3" width="111" height="110.9" fill="none" stroke="#555" stroke-width="0.8"/>
<text x="627.7" y="156.2" font-size="10.7" text-anchor="middle">0.52</text>
<text x="680.59" y="156.2" font-size="10.7" text-anchor="middle">0.55</text>
<text x="733.48" y="156.2" font-size="10.7" text-anchor="middle">0.58</text>
<text x="621" y="146" font-size="10.7" text-anchor="end">0</text>
<text x="621" y="131.13" font-size="10.7" text-anchor="end">10</text>
<text x="621" y="116.26" font-size="10.7" text-anchor="end">20</text>
<text x="621" y="101.39" font-size="10.7" text-anchor="end">30</text>
<text x="621" y="86.52" font-size="10.7" text-anchor="end">40</text>
<text x="621" y="71.65" font-size="10.7" text-anchor="end">50</text>
<text x="621" y="56.78" font-size="10.7" text-anchor="end">60</text>
<text x="621" y="41.91" font-size="10.7" text-anchor="end">70</text>
<text x="717" y="53.3" font-size="21" font-weight="bold">b</text>
<circle cx="248.7" cy="6.3" r="6" fill="#5e81b5"/>
<text x="261.5" y="11" font-size="14.7">Dynamical cascade</text>
<rect x="413.3" y="0.7" width="12" height="11" fill="#e19c24"/>
<text x="432" y="11" font-size="14.7">Static cascade</text>
</svg></body></html>
